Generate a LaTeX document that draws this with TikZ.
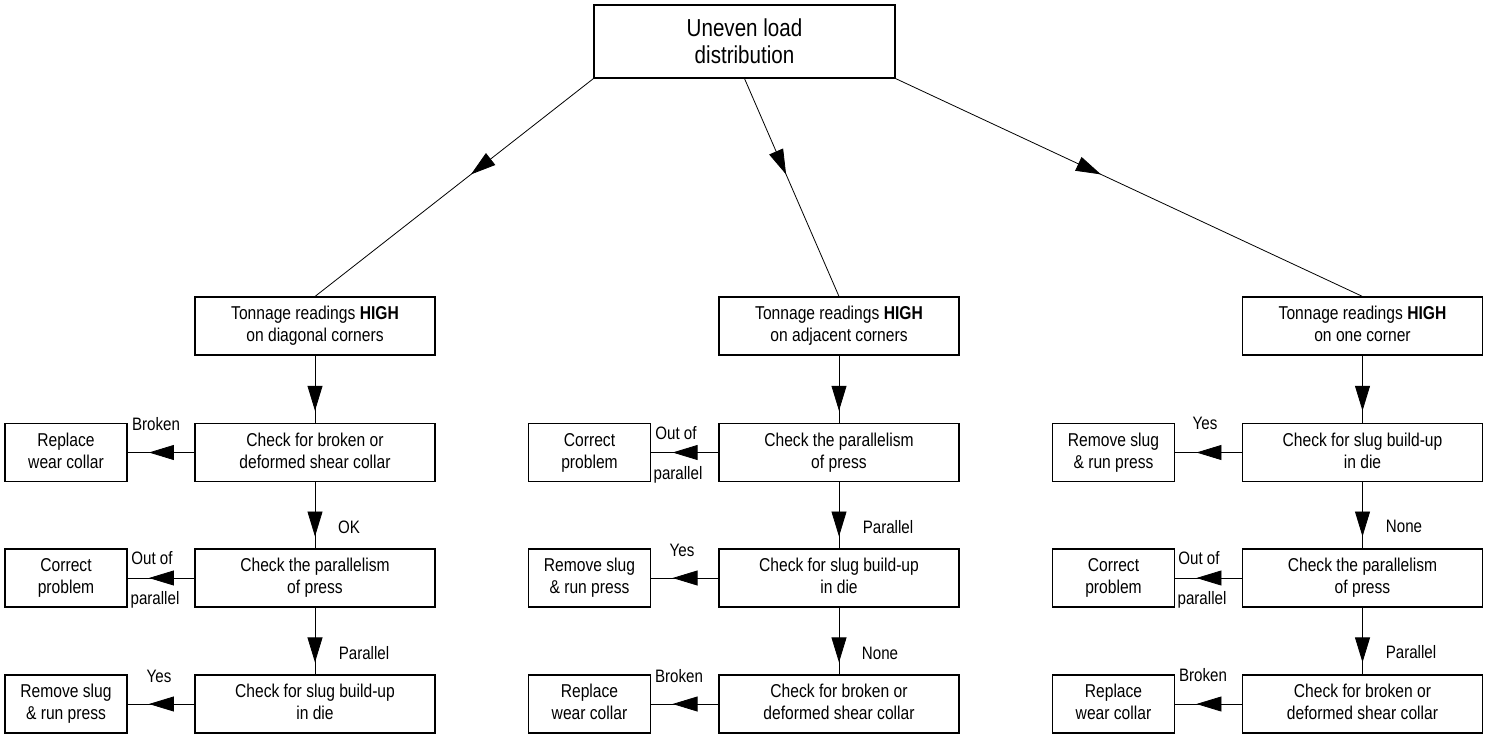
\documentclass[tikz,border=0pt]{standalone}
\usepackage{fontspec}
\setmainfont{Liberation Sans}[FakeStretch=0.84]
\usetikzlibrary{arrows.meta,decorations.markings}
\newcommand{\myDesc}{\vphantom{g}}
\begin{document}
\begin{tikzpicture}[x=1pt,y=-1pt,
  box/.style={draw, line width=1.1pt, minimum width=240pt, minimum height=58pt, inner sep=0pt, align=center, font=\fontsize{18.6}{22}\selectfont},
  sbox/.style={box, minimum width=122pt},
  topbox/.style={box, minimum width=301pt, minimum height=73pt, font=\fontsize{24.5}{27}\selectfont},
  lbl/.style={inner sep=0pt, font=\fontsize{18}{22}\selectfont},
  flow/.style={line width=0.8pt, postaction={decorate}, decoration={markings, mark=at position #1 with {\arrow{Triangle[length=25pt,width=15pt]}}}}
]
\useasboundingbox (0,0) rectangle (1491,736);

\node[topbox] (top) at (744.5,41.5) {Uneven load\\distribution};

% left column
\node[box] (L1) at (315,326) {Tonnage readings \textbf{HIGH}\\on diagonal corners\myDesc};
\node[box] (L2) at (315,452.5) {Check for broken or\\deformed shear collar\myDesc};
\node[box] (L3) at (315,578) {Check the parallelism\\of press\myDesc};
\node[box] (L4) at (315,704) {Check for slug build-up\\in die\myDesc};
\node[sbox] (LS2) at (66,452.5) {Replace\\wear collar\myDesc};
\node[sbox] (LS3) at (66,578) {Correct\\problem\myDesc};
\node[sbox] (LS4) at (66,704) {Remove slug\\\& run press\myDesc};

% middle column
\node[box] (M1) at (839,326) {Tonnage readings \textbf{HIGH}\\on adjacent corners\myDesc};
\node[box] (M2) at (839,452.5) {Check the parallelism\\of press\myDesc};
\node[box] (M3) at (839,578) {Check for slug build-up\\in die\myDesc};
\node[box] (M4) at (839,704) {Check for broken or\\deformed shear collar\myDesc};
\node[sbox] (MS2) at (589.5,452.5) {Correct\\problem\myDesc};
\node[sbox] (MS3) at (589.5,578) {Remove slug\\\& run press\myDesc};
\node[sbox] (MS4) at (589.5,704) {Replace\\wear collar\myDesc};

% right column
\node[box] (R1) at (1362.5,326) {Tonnage readings \textbf{HIGH}\\on one corner\myDesc};
\node[box] (R2) at (1362.5,452.5) {Check for slug build-up\\in die\myDesc};
\node[box] (R3) at (1362.5,578) {Check the parallelism\\of press\myDesc};
\node[box] (R4) at (1362.5,704) {Check for broken or\\deformed shear collar\myDesc};
\node[sbox] (RS2) at (1113.5,452.5) {Remove slug\\\& run press\myDesc};
\node[sbox] (RS3) at (1113.5,578) {Correct\\problem\myDesc};
\node[sbox] (RS4) at (1113.5,704) {Replace\\wear collar\myDesc};

% connectors from top
\draw[flow=0.44] (top.south west) -- (L1.north);
\draw[flow=0.44] (top.south) -- (M1.north);
\draw[flow=0.44] (top.south east) -- (R1.north);

% vertical and horizontal connectors
\foreach \c in {L,M,R}{
  \draw[flow=0.82] (\c1.south) -- (\c2.north);
  \draw[flow=0.82] (\c2.south) -- (\c3.north);
  \draw[flow=0.82] (\c3.south) -- (\c4.north);
  \draw[flow=0.68] (\c2.west) -- (\c S2.east);
  \draw[flow=0.68] (\c3.west) -- (\c S3.east);
  \draw[flow=0.68] (\c4.west) -- (\c S4.east);
}

% labels left
\node[lbl] (lb1) at (156,424) {Broken};
\node[lbl] (lb2) at (349,527) {OK};
\node[lbl] (lb3) at (152,558) {Out of};
\node[lbl] (lb4) at (155,600) {parallel};
\node[lbl] (lb5) at (364,653) {Parallel};
\node[lbl] (lb6) at (159,676) {Yes};
% labels middle
\node[lbl] (mb1) at (676,433) {Out of};
\node[lbl] (mb2) at (678,475) {parallel};
\node[lbl] (mb3) at (888,527) {Parallel};
\node[lbl] (mb4) at (682,550) {Yes};
\node[lbl] (mb5) at (880,653) {None};
\node[lbl] (mb6) at (679,676) {Broken};
% labels right
\node[lbl] (rb1) at (1205,423) {Yes};
\node[lbl] (rb2) at (1404,526) {None};
\node[lbl] (rb3) at (1199,558) {Out of};
\node[lbl] (rb4) at (1202,600) {parallel};
\node[lbl] (rb5) at (1411,652) {Parallel};
\node[lbl] (rb6) at (1203,675) {Broken};
\end{tikzpicture}
\end{document}
